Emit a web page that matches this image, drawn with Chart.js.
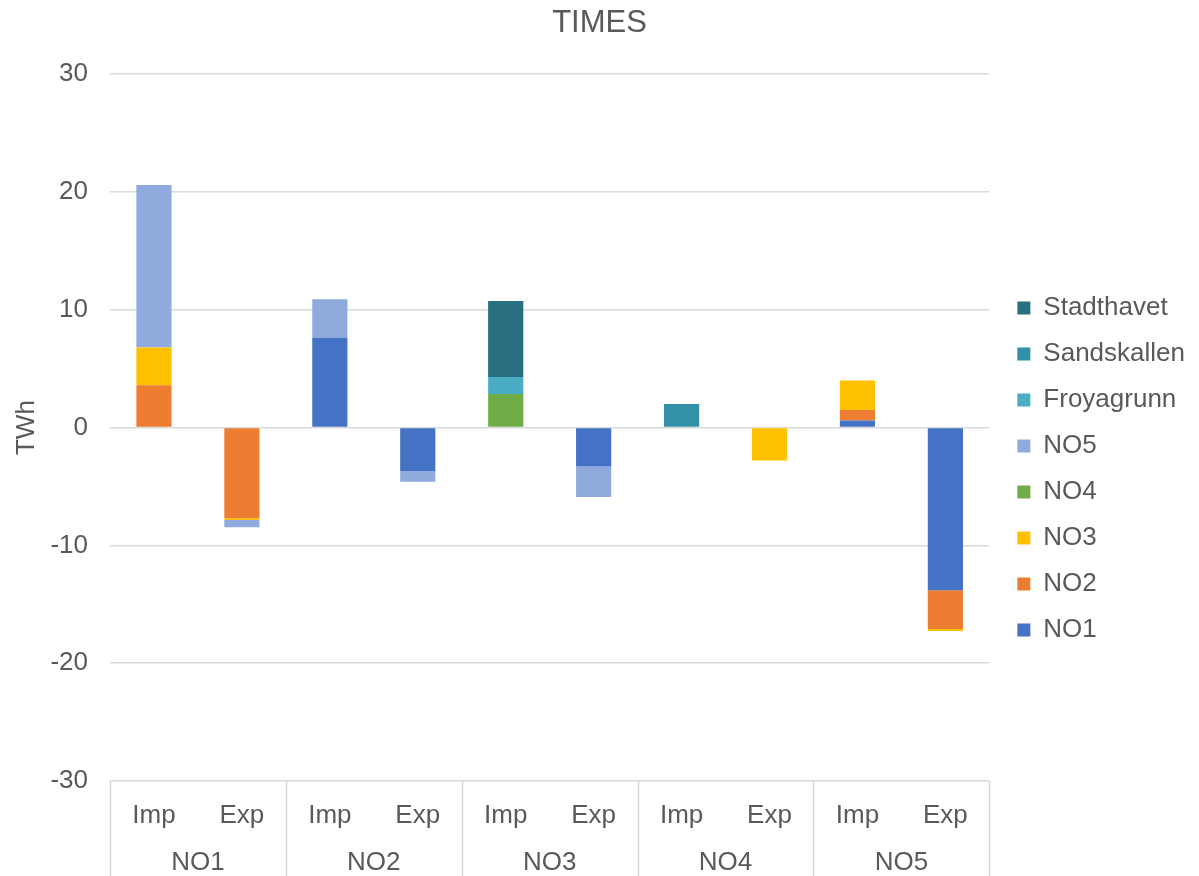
<!DOCTYPE html>
<html>
<head>
<meta charset="utf-8">
<script src="https://cdn.jsdelivr.net/npm/chart.js@4/dist/chart.umd.min.js"></script>
<style>
  html, body { margin: 0; padding: 0; background: #ffffff; }
  #wrap { width: 1199px; height: 876px; }
</style>
</head>
<body>
<div id="wrap"><canvas id="c" width="1199" height="876"></canvas></div>
<script>
// Flow categories: import/export per price area
const flowLabels = ['Imp', 'Exp', 'Imp', 'Exp', 'Imp', 'Exp', 'Imp', 'Exp', 'Imp', 'Exp'];
const areaLabels = ['NO1', 'NO2', 'NO3', 'NO4', 'NO5'];
const yTicks = [-30, -20, -10, 0, 10, 20, 30];

// Series values in TWh (order: NO1 Imp, NO1 Exp, NO2 Imp, NO2 Exp, ..., NO5 Exp)
const NO1 = [null, null, 7.6, -3.7, null, -3.3, null, null, 0.6, -13.8];
const NO2 = [3.6, -7.7, null, null, null, null, null, null, 0.9, -3.3];
const NO3 = [3.2, -0.15, null, null, null, null, null, -2.8, 2.5, -0.17];
const NO4 = [null, null, null, null, 2.85, null, null, null, null, null];
const NO5 = [13.8, -0.6, 3.3, -0.9, null, -2.6, null, null, null, null];
const Froyagrunn = [null, null, null, null, 1.45, null, null, null, null, null];
const Sandskallen = [null, null, null, null, null, null, 2.0, null, null, null];
const Stadthavet = [null, null, null, null, 6.45, null, null, null, null, null];

const textColor = '#595959';
const gridColor = '#d9d9d9';
const fontFamily = '"Liberation Sans", Arial, sans-serif';

function series(label, data, color) {
  return {
    label, data,
    backgroundColor: color,
    borderWidth: 0,
    barPercentage: 0.4,
    categoryPercentage: 1.0,
    stack: 's'
  };
}

// Vertical separators between area groups below the plot
const groupSeparators = {
  id: 'groupSeparators',
  afterDraw(chart) {
    const x = chart.scales.x;
    const area = chart.chartArea;
    const ctx = chart.ctx;
    const positions = [area.left];
    for (let g = 1; g < areaLabels.length; g++) {
      positions.push((x.getPixelForValue(2 * g - 1) + x.getPixelForValue(2 * g)) / 2);
    }
    positions.push(area.right);
    ctx.save();
    ctx.strokeStyle = gridColor;
    ctx.lineWidth = 1.5;
    positions.forEach(p => {
      ctx.beginPath();
      ctx.moveTo(Math.round(p) + 0.5, area.bottom);
      ctx.lineTo(Math.round(p) + 0.5, chart.height);
      ctx.stroke();
    });
    ctx.restore();
  }
};

// Widen the legend box a little and nudge it to sit lower and further right
const legendPlacement = {
  id: 'legendPlacement',
  beforeLayout(chart) {
    const l = chart.legend;
    if (l && !l._widened) {
      const fit = l.fit;
      l.fit = function () { fit.call(this); this.width += 12; };
      l._widened = true;
    }
  },
  afterLayout(chart) {
    const l = chart.legend;
    l.left += 8; l.right += 8;
    l.top += 31; l.bottom += 31;
  }
};

new Chart(document.getElementById('c'), {
  type: 'bar',
  data: {
    labels: flowLabels,
    datasets: [
      series('NO1', NO1, '#4472C4'),
      series('NO2', NO2, '#ED7D31'),
      series('NO3', NO3, '#FFC000'),
      series('NO4', NO4, '#70AD47'),
      series('NO5', NO5, '#8FAADC'),
      series('Froyagrunn', Froyagrunn, '#4BACC6'),
      series('Sandskallen', Sandskallen, '#3290A9'),
      series('Stadthavet', Stadthavet, '#28707F')
    ]
  },
  options: {
    responsive: false,
    animation: false,
    plugins: {
      title: {
        display: true,
        text: 'TIMES',
        color: textColor,
        font: { family: fontFamily, size: 31, weight: 'normal' },
        padding: { top: 5, bottom: 32 }
      },
      legend: {
        position: 'right',
        reverse: true,
        labels: {
          color: textColor,
          font: { family: fontFamily, size: 26 },
          boxWidth: 13,
          boxHeight: 13,
          padding: 20
        }
      },
      tooltip: { enabled: false }
    },
    scales: {
      x: {
        stacked: true,
        weight: 0,
        afterFit(scale) { scale.height = 48; },
        grid: { display: false, drawTicks: false },
        border: { display: false },
        ticks: {
          color: textColor,
          font: { family: fontFamily, size: 26 },
          padding: 19,
          maxRotation: 0,
          autoSkip: false
        }
      },
      x2: {
        type: 'category',
        position: 'bottom',
        labels: areaLabels,
        weight: 1,
        offset: true,
        afterFit(scale) { scale.height = 47; },
        grid: { display: false, drawTicks: false },
        border: { display: false },
        ticks: {
          color: textColor,
          font: { family: fontFamily, size: 26 },
          padding: 18,
          maxRotation: 0,
          autoSkip: false
        }
      },
      y: {
        stacked: true,
        min: yTicks[0],
        max: yTicks[yTicks.length - 1],
        afterBuildTicks(scale) { scale.ticks = yTicks.map(v => ({ value: v })); },
        afterFit(scale) { scale.width = 110; },
        grid: { color: gridColor, lineWidth: 1.5, drawTicks: false },
        border: { display: false },
        ticks: {
          color: textColor,
          font: { family: fontFamily, size: 26 },
          padding: 22
        },
        title: {
          display: true,
          text: 'TWh',
          color: textColor,
          font: { family: fontFamily, size: 26 },
          padding: { top: 11, bottom: 6 }
        }
      }
    }
  },
  plugins: [groupSeparators, legendPlacement]
});
</script>
</body>
</html>
